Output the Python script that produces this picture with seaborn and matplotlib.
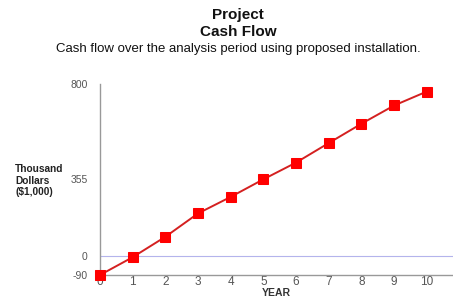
import matplotlib
matplotlib.use("Agg")
import seaborn as sns
from matplotlib import pyplot as plt

years = [0, 1, 2, 3, 4, 5, 6, 7, 8, 9, 10]
cash_flow = [-90, -7, 88, 197, 274, 356, 434, 525, 615, 700, 765]
y_ticks = [-90, 0, 355, 800]

sns.set_style("white")
plt.rcParams['font.family'] = ['Liberation Sans', 'DejaVu Sans']

fig = plt.figure(figsize=(4.53, 3.01), dpi=100)
ax = fig.add_axes([100 / 453, 26 / 301, 353 / 453, 191 / 301])

ax.axhline(0, color="#b4b4ec", lw=0.8, zorder=1)
sns.lineplot(x=years, y=cash_flow, ax=ax, color="#d42020", lw=1.4,
             marker="s", markersize=6.5, markerfacecolor="#ff0000",
             markeredgecolor="#ff0000", clip_on=False, zorder=3)

ax.set_xlim(0, 10.8)
ax.set_ylim(-90, 800)
ax.set_xticks(years)
ax.set_yticks(y_ticks)
ax.set_xticklabels([str(y) for y in years], fontsize=8.5, color="#555555")
ax.set_yticklabels([str(v) for v in y_ticks], fontsize=7.5, color="#555555")
ax.tick_params(axis="x", direction="in", length=6, width=0.8, colors="#e08080",
               labelcolor="#555555", pad=1)
ax.tick_params(axis="y", direction="in", length=6, width=0.8, colors="#999999",
               labelcolor="#555555", pad=9)

for side in ("top", "right"):
    ax.spines[side].set_visible(False)
for side in ("left", "bottom"):
    ax.spines[side].set_color("#999999")
    ax.spines[side].set_linewidth(1.0)

ax.set_xlabel("YEAR", fontsize=7.5, fontweight="bold", color="#333333", labelpad=0)
ax.set_ylabel("")

cx = 238 / 453
fig.text(cx, 1 - 15 / 301, "Project", ha="center", va="center",
         fontsize=11, fontweight="bold", color="#111111")
fig.text(cx, 1 - 32 / 301, "Cash Flow", ha="center", va="center",
         fontsize=11, fontweight="bold", color="#111111")
fig.text(cx, 1 - 49 / 301,
         "Cash flow over the analysis period using proposed installation.",
         ha="center", va="center", fontsize=9.5, color="#111111")
fig.text(15 / 453, 1 - 164 / 301, "Thousand\nDollars\n($1,000)", ha="left",
         va="top", fontsize=7.3, fontweight="bold", color="#222222",
         linespacing=1.2)

fig.savefig("out.png", dpi=100)
